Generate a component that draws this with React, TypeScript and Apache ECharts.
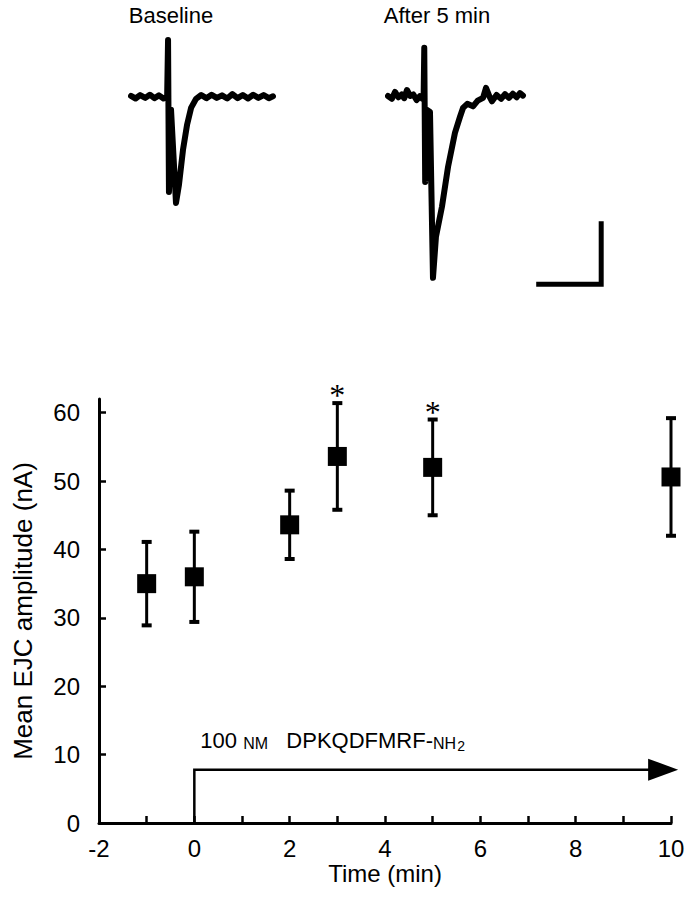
import React, { useEffect, useRef } from "react";
import * as echarts from "echarts";

// ---- Main plot data (time in min, EJC amplitude in nA) ----
const times = [-1, 0, 2, 3, 5, 10];
const meanAmp = [35.0, 36.0, 43.6, 53.6, 52.0, 50.6];
const semAmp = [6.1, 6.6, 5.0, 7.8, 7.0, 8.6];
const significant = [false, false, false, true, true, false];

const yTickValues = [0, 10, 20, 30, 40, 50, 60];
const xLabelValues = [-2, 0, 2, 4, 6, 8, 10];
const xTickValues = [-1, 0, 1, 2, 3, 4, 5, 6, 7, 8, 9, 10];

// drug application bar (min, nA)
const drugStart = 0;
const drugEnd = 10.15;
const drugLevel = 7.8;

// ---- Example traces (ms, nA) ----
const baselineTrace: number[][] = [
  [0, 0.3], [0.35, -0.5], [0.7, 0.6], [1.1, -0.3], [1.45, 0.7], [1.8, -0.4],
  [2.15, 0.5], [2.5, -0.5], [2.78, 0], [2.85, 18.1], [2.92, -30.2], [3.08, -4.1],
  [3.46, -33.7], [3.69, -27.9], [4.0, -16.8], [4.31, -8.9], [4.62, -3.5],
  [5.0, -0.6], [5.4, 0.6], [5.8, -0.4], [6.2, 0.7], [6.6, -0.3], [7.0, 0.5],
  [7.4, -0.5], [7.8, 0.9], [8.2, -0.4], [8.6, 0.6], [9.0, -0.5], [9.4, 0.7],
  [9.8, -0.3], [10.2, 0.6], [10.6, -0.4], [10.92, 0.2],
];
const after5Trace: number[][] = [
  [0, 0.3], [0.3, -0.6], [0.54, 1.6], [0.8, -0.1], [1.05, 0.8], [1.25, -0.4],
  [1.46, 2.2], [1.7, 0.3], [1.95, 0.8], [2.2, -1.0], [2.45, 0.2], [2.65, -0.6],
  [2.74, 0], [2.79, 15.6], [2.86, -27.0], [3.0, -4.1], [3.23, -4.8], [3.46, -57.5],
  [3.69, -44.4], [4.15, -34.9], [4.62, -22.2], [5.15, -11.4], [5.54, -6.3],
  [5.77, -3.5], [6.1, -2.2], [6.54, -3.0], [6.9, -1.2], [7.31, -0.3], [7.54, 2.9],
  [7.8, 0.2], [8.0, -1.4], [8.35, 0.6], [8.7, -0.6], [9.0, 0.9], [9.3, -0.3],
  [9.6, 1.0], [9.9, -0.1], [10.15, 1.2], [10.38, 0.4],
];
// scale bar: 5 ms, 20 nA
const scaleBar: number[][] = [[11.4, -59.5], [16.4, -59.5], [16.4, -39.5]];

const FONT = "'Liberation Sans', Arial, Helvetica, sans-serif";

export default function App() {
  const ref = useRef<HTMLDivElement>(null);
  useEffect(() => {
    if (!ref.current) return;
    const chart = echarts.init(ref.current, undefined, { renderer: "svg" });
    const errData = times.map((t, i) => [
      t,
      meanAmp[i] - semAmp[i],
      meanAmp[i] + semAmp[i],
      significant[i] ? 1 : 0,
    ]);
    const hiddenAxis = { show: false };
    const option: any = {
      animation: false,
      backgroundColor: "#fff",
      textStyle: { fontFamily: FONT, color: "#000" },
      graphic: [
        {
          type: "text",
          x: 171,
          y: 15,
          style: { text: "Baseline", font: `22px ${FONT}`, fill: "#000", align: "center", verticalAlign: "middle" },
        },
        {
          type: "text",
          x: 437,
          y: 15,
          style: { text: "After 5 min", font: `22px ${FONT}`, fill: "#000", align: "center", verticalAlign: "middle" },
        },
      ],
      grid: [
        { left: 99, top: 399, width: 572, height: 424 },
        { left: 131, top: 34, width: 143, height: 258 },
        { left: 388, top: 34, width: 221, height: 258 },
      ],
      xAxis: [
        {
          type: "value",
          gridIndex: 0,
          min: -2,
          max: 10,
          name: "Time (min)",
          nameLocation: "middle",
          nameGap: 38,
          nameTextStyle: { fontSize: 24, color: "#000", fontFamily: FONT },
          axisLine: { onZero: false, lineStyle: { color: "#000", width: 3 } },
          axisTick: { inside: true, length: 7, lineStyle: { color: "#000", width: 2.5 }, customValues: xTickValues },
          axisLabel: { fontSize: 24, color: "#000", margin: 13, fontFamily: FONT, customValues: xLabelValues },
          splitLine: { show: false },
        },
        { type: "value", gridIndex: 1, min: 0, max: 11, ...hiddenAxis },
        { type: "value", gridIndex: 2, min: 0, max: 17, ...hiddenAxis },
      ],
      yAxis: [
        {
          type: "value",
          gridIndex: 0,
          min: 0,
          max: 62,
          name: "Mean EJC amplitude (nA)",
          nameLocation: "middle",
          nameGap: 63,
          nameTextStyle: { fontSize: 26, color: "#000", fontFamily: FONT },
          axisLine: { show: true, onZero: false, lineStyle: { color: "#000", width: 3 } },
          axisTick: { show: true, inside: true, length: 7, lineStyle: { color: "#000", width: 2.5 }, customValues: yTickValues },
          axisLabel: { fontSize: 24, color: "#000", margin: 19, fontFamily: FONT, padding: [0, 0, 12, 0], customValues: yTickValues },
          splitLine: { show: false },
        },
        { type: "value", gridIndex: 1, min: -62, max: 20, ...hiddenAxis },
        { type: "value", gridIndex: 2, min: -62, max: 20, ...hiddenAxis },
      ],
      series: [
        {
          type: "custom",
          xAxisIndex: 0,
          yAxisIndex: 0,
          clip: false,
          z: 3,
          encode: { x: 0, y: [1, 2] },
          data: [[drugStart, drugEnd, drugLevel]],
          renderItem: (params: any, api: any) => {
            const s = api.value(0);
            const e = api.value(1);
            const lv = api.value(2);
            const p0 = api.coord([s, 0]);
            const p1 = api.coord([s, lv]);
            const p2 = api.coord([e, lv]);
            const headL = 30;
            const headH = 11;
            return {
              type: "group",
              children: [
                {
                  type: "polyline",
                  shape: { points: [p0, p1, [p2[0] - headL + 2, p2[1]]] },
                  style: { stroke: "#000", lineWidth: 2.5, fill: null },
                },
                {
                  type: "polygon",
                  shape: { points: [[p2[0] - headL, p2[1] - headH], [p2[0], p2[1]], [p2[0] - headL, p2[1] + headH]] },
                  style: { fill: "#000" },
                },
                {
                  type: "text",
                  x: p1[0] + 6,
                  y: p1[1] - 29,
                  style: {
                    text: "{n|100 }{sc|NM}{n|   DPKQDFMRF-}{sc|NH}{sub|2}",
                    fill: "#000",
                    verticalAlign: "middle",
                    align: "left",
                    rich: {
                      n: { fontSize: 22, fontFamily: FONT, fill: "#000", lineHeight: 24, verticalAlign: "middle" },
                      sc: { fontSize: 16, fontFamily: FONT, fill: "#000", lineHeight: 18, verticalAlign: "middle", padding: [5, 0, 0, 0] },
                      sub: { fontSize: 14, fontFamily: FONT, fill: "#000", lineHeight: 14, verticalAlign: "bottom", padding: [12, 0, 0, 1] },
                    },
                  },
                },
              ],
            };
          },
        },
        {
          type: "custom",
          xAxisIndex: 0,
          yAxisIndex: 0,
          clip: false,
          z: 4,
          encode: { x: 0, y: [1, 2] },
          data: errData,
          renderItem: (params: any, api: any) => {
            const x = api.value(0);
            const lo = api.coord([x, api.value(1)]);
            const hi = api.coord([x, api.value(2)]);
            const sig = api.value(3);
            const cap = 5;
            const st = { stroke: "#000", lineWidth: 3 };
            const children: any[] = [
              { type: "line", shape: { x1: lo[0], y1: lo[1], x2: hi[0], y2: hi[1] }, style: st },
              { type: "line", shape: { x1: lo[0] - cap, y1: lo[1], x2: lo[0] + cap, y2: lo[1] }, style: { stroke: "#000", lineWidth: 4 } },
              { type: "line", shape: { x1: hi[0] - cap, y1: hi[1], x2: hi[0] + cap, y2: hi[1] }, style: { stroke: "#000", lineWidth: 4 } },
            ];
            if (sig) {
              children.push({
                type: "text",
                x: hi[0],
                y: hi[1] - 8,
                style: { text: "*", font: `32px 'Liberation Serif', serif`, fill: "#000", align: "center", verticalAlign: "middle" },
              });
            }
            return { type: "group", children };
          },
        },
        {
          type: "scatter",
          xAxisIndex: 0,
          yAxisIndex: 0,
          z: 5,
          symbol: "rect",
          symbolSize: 19,
          itemStyle: { color: "#000", opacity: 1 },
          data: times.map((t, i) => [t, meanAmp[i]]),
        },
        {
          type: "line",
          xAxisIndex: 1,
          yAxisIndex: 1,
          showSymbol: false,
          symbol: "none",
          lineStyle: { color: "#000", width: 6, join: "round", cap: "round" },
          data: baselineTrace,
        },
        {
          type: "line",
          xAxisIndex: 2,
          yAxisIndex: 2,
          showSymbol: false,
          symbol: "none",
          lineStyle: { color: "#000", width: 6, join: "round", cap: "round" },
          data: after5Trace,
        },
        {
          type: "line",
          xAxisIndex: 2,
          yAxisIndex: 2,
          showSymbol: false,
          symbol: "none",
          lineStyle: { color: "#000", width: 5, join: "miter", cap: "butt" },
          data: scaleBar,
        },
      ],
    };
    chart.setOption(option);
    return () => chart.dispose();
  }, []);
  return (
    <div
      ref={ref}
      style={{ position: "fixed", left: 0, top: 0, width: 692, height: 900, background: "#fff" }}
    />
  );
}
